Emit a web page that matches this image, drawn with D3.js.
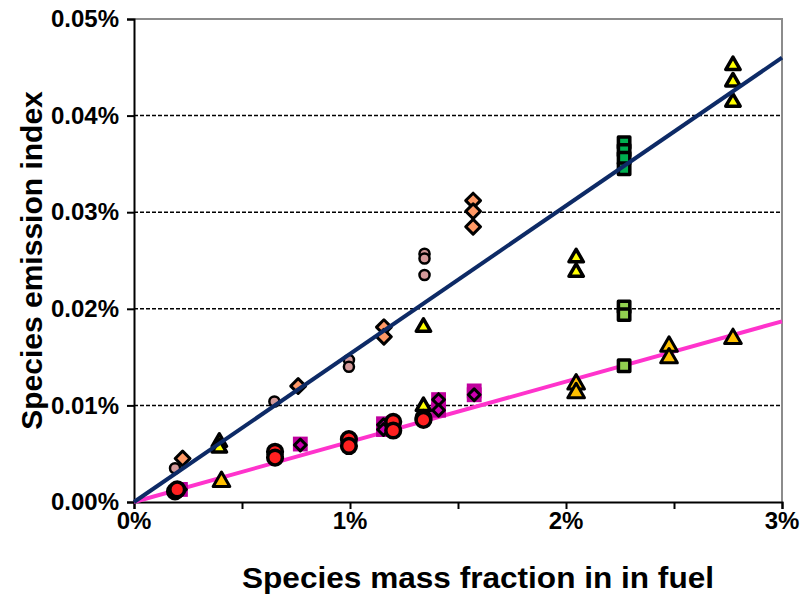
<!DOCTYPE html>
<html>
<head>
<meta charset="utf-8">
<script src="https://cdn.jsdelivr.net/npm/d3@7"></script>
<style>
	body { margin: 0; background: #fff; }
	text { font-family: 'Liberation Sans', Arial, sans-serif; font-weight: bold; }
</style>
</head>
<body>
<div id="app"></div>
<script>
// tick values (in %)
const xTicks = [0, 0.5, 1, 1.5, 2, 2.5, 3]
const xLabels = [0, 1, 2, 3]
const yTicks = [0, 0.01, 0.02, 0.03, 0.04, 0.05]
const gridValues = [0.01, 0.02, 0.03, 0.04]

// series points: [mass fraction %, emission index %]
const pinkCircles = [[0.19, 0.0035], [0.65, 0.0104], [0.995, 0.0147], [0.995, 0.0140],
	[1.345, 0.0257], [1.345, 0.0252], [1.345, 0.0235]]
const orangeDiamonds = [[0.225, 0.0045], [0.76, 0.0120], [1.157, 0.0181], [1.157, 0.0171],
	[1.57, 0.0312], [1.57, 0.0301], [1.57, 0.0285]]
const magentaSquares = [[0.215, 0.0013], [0.77, 0.0060], [1.155, 0.0081], [1.155, 0.0075],
	[1.41, 0.0106], [1.41, 0.0095], [1.575, 0.0115], [1.575, 0.0111]]
const magentaDiamonds = [[0.215, 0.0013], [0.77, 0.0059], [1.155, 0.0080], [1.155, 0.0075],
	[1.41, 0.0106], [1.41, 0.0095], [1.575, 0.0111]]
const yellowTriangles = [[0.395, 0.0062], [0.395, 0.0056], [1.34, 0.0181], [1.34, 0.0099],
	[2.047, 0.0253], [2.047, 0.0238], [2.773, 0.0452], [2.773, 0.0435], [2.773, 0.0414]]
const goldTriangles = [[0.405, 0.0021], [2.047, 0.0122], [2.047, 0.0113],
	[2.477, 0.0161], [2.477, 0.0149], [2.773, 0.0169]]
const darkGreenSquares = [[2.269, 0.0372], [2.269, 0.0364], [2.269, 0.0356], [2.269, 0.0345]]
const lightGreenSquares = [[2.269, 0.0202], [2.269, 0.0194], [2.269, 0.0141]]
const redCircles = [[0.19, 0.0011], [0.20, 0.0013], [0.653, 0.0052], [0.653, 0.0046],
	[0.995, 0.0065], [0.995, 0.0058], [1.2, 0.0083], [1.2, 0.0074], [1.34, 0.0087], [1.34, 0.0085]]

// trend lines through the origin: [x at 0, y at 0], [x at end, y at end]
const navyTrend = [[0, 0], [3, 0.0460]]
const pinkTrend = [[0, 0], [3, 0.0187]]

const width = 805
const height = 598
const margin = { top: 19, right: 23, bottom: 96, left: 134 }
const plotW = width - margin.left - margin.right
const plotH = height - margin.top - margin.bottom

const svg = d3.select('#app').append('svg')
	.attr('width', width)
	.attr('height', height)

const x = d3.scaleLinear().domain([0, 3]).range([margin.left, margin.left + plotW])
const y = d3.scaleLinear().domain([0, 0.05]).range([margin.top + plotH, margin.top])

// plot border (top and right, grey)
svg.append('path')
	.attr('d', `M${x(0)},${y(0.05)}H${x(3)}V${y(0)}`)
	.attr('fill', 'none')
	.attr('stroke', '#8c8c8c')
	.attr('stroke-width', 2)

// dashed gridlines
svg.append('g').selectAll('line')
	.data(gridValues)
	.join('line')
	.attr('x1', x(0))
	.attr('x2', x(3))
	.attr('y1', d => y(d))
	.attr('y2', d => y(d))
	.attr('stroke', '#000')
	.attr('stroke-width', 1.5)
	.attr('stroke-dasharray', '4,2')

// axes
const yAxis = d3.axisLeft(y).tickValues(yTicks).tickSize(7).tickFormat(d => d.toFixed(2) + '%')
const xAxis = d3.axisBottom(x).tickValues(xTicks).tickSize(7).tickFormat('')

const gx = svg.append('g').attr('transform', `translate(0,${y(0)})`).call(xAxis)
const gy = svg.append('g').attr('transform', `translate(${x(0)},0)`).call(yAxis)
;[gx, gy].forEach(g => {
	g.select('.domain').attr('stroke', '#000').attr('stroke-width', 2)
	g.selectAll('.tick line').attr('stroke', '#000').attr('stroke-width', 2)
})
gy.selectAll('.tick text')
	.attr('x', -15)
	.attr('font-size', 24)
	.attr('font-family', null)
	.attr('fill', '#000')

svg.append('g').selectAll('text')
	.data(xLabels)
	.join('text')
	.attr('x', d => x(d))
	.attr('y', y(0) + 27)
	.attr('text-anchor', 'middle')
	.attr('font-size', 24)
	.text(d => d + '%')

// axis titles
svg.append('text')
	.attr('x', 478)
	.attr('y', 588)
	.attr('text-anchor', 'middle')
	.attr('font-size', 29)
	.attr('textLength', 472)
	.attr('lengthAdjust', 'spacingAndGlyphs')
	.text('Species mass fraction in in fuel')

svg.append('text')
	.attr('transform', `translate(42,${margin.top + plotH / 2}) rotate(-90)`)
	.attr('text-anchor', 'middle')
	.attr('font-size', 30)
	.text('Species emission index')

// trend line generator
const line = d3.line().x(d => x(d[0])).y(d => y(d[1]))

svg.append('path')
	.attr('d', line(pinkTrend))
	.attr('fill', 'none')
	.attr('stroke', '#ff33cc')
	.attr('stroke-width', 4)

// markers
function drawSeries(data, type, size, fill, stroke, strokeWidth, rotate = 0) {
	svg.append('g').selectAll('path')
		.data(data)
		.join('path')
		.attr('d', d3.symbol(type, size))
		.attr('transform', d => `translate(${x(d[0])},${y(d[1])}) rotate(${rotate})`)
		.attr('fill', fill)
		.attr('stroke', stroke)
		.attr('stroke-width', strokeWidth)
		.attr('stroke-linejoin', 'round')
}

drawSeries(pinkCircles, d3.symbolCircle, 80, '#d49a9a', '#000', 2.5)
drawSeries(orangeDiamonds, d3.symbolSquare, 110, '#ff9966', '#000', 3, 45)
drawSeries(magentaSquares, d3.symbolSquare, 220, '#c0009e', 'none', 0)
drawSeries(magentaDiamonds, d3.symbolSquare, 70, '#cc00b0', '#000', 3, 45)
drawSeries(yellowTriangles, d3.symbolTriangle, 90, '#ffff00', '#000', 3.5)
drawSeries(goldTriangles, d3.symbolTriangle, 120, '#ffc000', '#000', 3)
drawSeries(darkGreenSquares, d3.symbolSquare, 130, '#00b050', '#000', 3.5)
drawSeries(lightGreenSquares, d3.symbolSquare, 130, '#92d050', '#000', 3.5)
drawSeries(redCircles, d3.symbolCircle, 170, '#ff2020', '#000', 3.5)

svg.append('path')
	.attr('d', line(navyTrend))
	.attr('fill', 'none')
	.attr('stroke', '#0d2a66')
	.attr('stroke-width', 4)
</script>
</body>
</html>
